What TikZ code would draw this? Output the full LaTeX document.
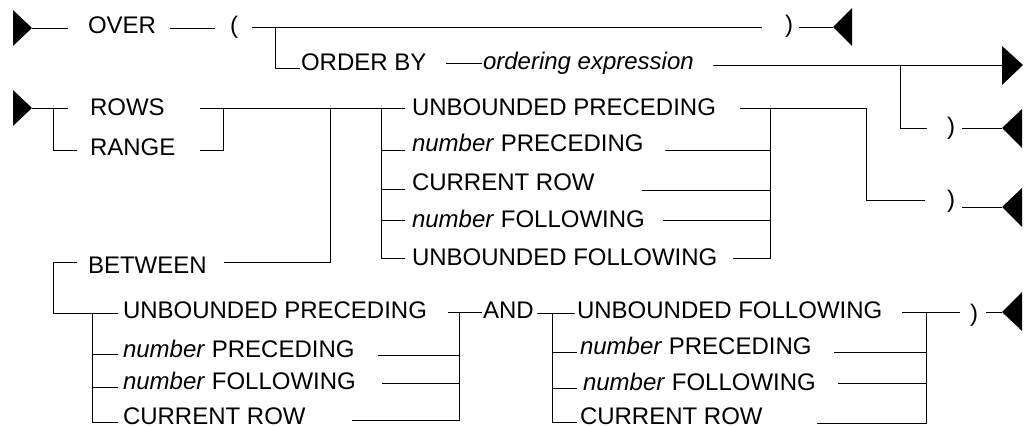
\documentclass[tikz,border=0pt]{standalone}
\usepackage{fontspec}
\setmainfont{Liberation Sans}
\begin{document}
\begin{tikzpicture}[x=1pt,y=-1pt,
  ln/.style={line width=0.9pt,black},
  lbl/.style={anchor=base west,inner sep=0pt,outer sep=0pt,font=\fontsize{24}{28}\selectfont},
  tri/.style={fill=black}]
\useasboundingbox (0,0) rectangle (1024,427);
% ---------- texts ----------
\node[lbl] (over) at (88,34) {OVER};
\node[lbl] (lp) at (230,34) {(};
\node[lbl] (rp1) at (785,33) {)};
\node[lbl] (order) at (301,71) {ORDER BY};
\node[lbl] (oexp) at (483,70) {\itshape ordering expression};
\node[lbl] (rp2) at (947,135) {)};
\node[lbl] (rows) at (90,116) {ROWS};
\node[lbl] (range) at (90,156) {RANGE};
\node[lbl] (between) at (88,273) {BETWEEN};
\node[lbl] (up1) at (412,116) {UNBOUNDED PRECEDING};
\node[lbl] (np1) at (412,152) {\textit{number} PRECEDING};
\node[lbl] (cr1) at (412,191) {CURRENT ROW};
\node[lbl] (nf1) at (412,228) {\textit{number} FOLLOWING};
\node[lbl] (uf1) at (412,266) {UNBOUNDED FOLLOWING};
\node[lbl] (rp3) at (947,208) {)};
\node[lbl] (up2) at (123,318) {UNBOUNDED PRECEDING};
\node[lbl] (np2) at (123,357) {\textit{number} PRECEDING};
\node[lbl] (nf2) at (123,389) {\textit{number} FOLLOWING};
\node[lbl] (cr2) at (123,424) {CURRENT ROW};
\node[lbl] (and) at (483,318) {AND};
\node[lbl] (uf3) at (577,318) {UNBOUNDED FOLLOWING};
\node[lbl] (np3) at (580,354) {\textit{number} PRECEDING};
\node[lbl] (nf3) at (583,390) {\textit{number} FOLLOWING};
\node[lbl] (cr3) at (580,424) {CURRENT ROW};
\node[lbl] (rp4) at (970,321) {)};
% ---------- triangles ----------
\fill[tri] (13,10) -- (32,28) -- (13,46) -- cycle;
\fill[tri] (852,8) -- (833,27) -- (852,46) -- cycle;
\fill[tri] (1002,46) -- (1023,65) -- (1002,85) -- cycle;
\fill[tri] (1022,109) -- (1002,128) -- (1022,148) -- cycle;
\fill[tri] (13,90) -- (32,108) -- (13,126) -- cycle;
\fill[tri] (1022,188) -- (1002,207) -- (1022,227) -- cycle;
\fill[tri] (1022,292) -- (1002,312) -- (1022,331) -- cycle;
% ---------- row 1 ----------
\draw[ln] (32,28) -- (68,28);
\draw[ln] (170,28) -- (215,28);
\draw[ln] (252,27) -- (762,27);
\draw[ln] (799,27) -- (833,27);
\draw[ln] (275,27) -- (275,68) -- (300,68);
\draw[ln] (446,63) -- (482,63);
\draw[ln] (713,65) -- (1002,65);
\draw[ln] (900,65) -- (900,128) -- (927,128);
\draw[ln] (962,128) -- (1002,128);
% ---------- row 2 ----------
\draw[ln] (32,108) -- (68,108);
\draw[ln] (53,108) -- (53,150) -- (77,150);
\draw[ln] (200,108) -- (405,108);
\draw[ln] (200,150) -- (223,150) -- (223,108);
\draw[ln] (330,108) -- (330,262) -- (224,262);
\draw[ln] (381,108) -- (381,258) -- (405,258);
\draw[ln] (381,150) -- (405,150);
\draw[ln] (381,189) -- (405,189);
\draw[ln] (381,220) -- (405,220);
\draw[ln] (740,108) -- (866,108);
\draw[ln] (770,108) -- (770,258) -- (733,258);
\draw[ln] (665,150) -- (770,150);
\draw[ln] (642,190) -- (770,190);
\draw[ln] (663,220) -- (770,220);
\draw[ln] (866,108) -- (866,200) -- (925,200);
\draw[ln] (962,207) -- (1002,207);
% ---------- between ----------
\draw[ln] (77,262) -- (53,262) -- (53,313) -- (118,313);
\draw[ln] (92,313) -- (92,422) -- (118,422);
\draw[ln] (92,354) -- (118,354);
\draw[ln] (92,387) -- (118,387);
\draw[ln] (448,312) -- (482,312);
\draw[ln] (378,355) -- (459,355);
\draw[ln] (382,383) -- (459,383);
\draw[ln] (352,420) -- (459,420) -- (459,312);
\draw[ln] (537,313) -- (575,313);
\draw[ln] (552,313) -- (552,422) -- (577,422);
\draw[ln] (552,352) -- (577,352);
\draw[ln] (552,388) -- (577,388);
\draw[ln] (902,312) -- (960,312);
\draw[ln] (834,352) -- (926,352);
\draw[ln] (838,383) -- (926,383);
\draw[ln] (817,423) -- (926,423) -- (926,312);
\draw[ln] (986,312) -- (1002,312);
\end{tikzpicture}
\end{document}
